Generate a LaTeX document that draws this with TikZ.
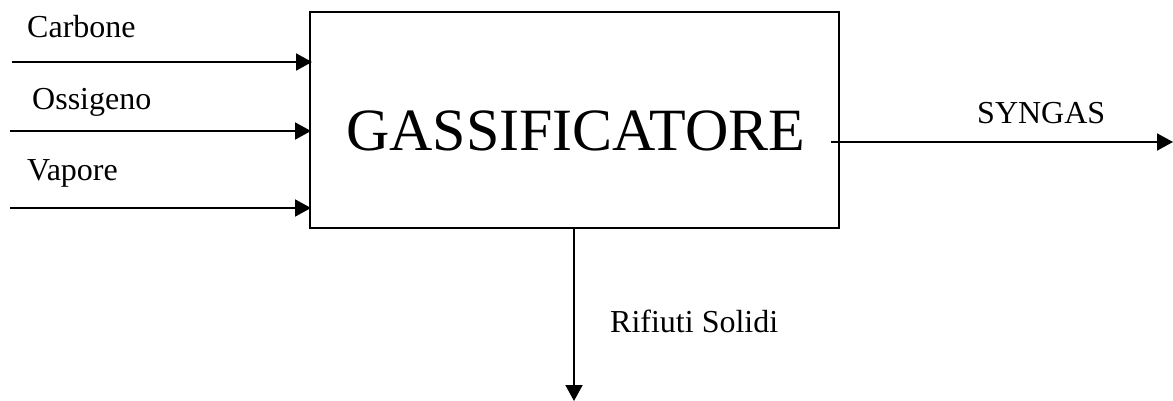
\documentclass[tikz,border=0pt]{standalone}
\usepackage{fontspec}
\setmainfont{Liberation Serif}
\usetikzlibrary{arrows.meta}
\begin{document}
\begin{tikzpicture}[x=1pt,y=-1pt,
  flow/.style={line width=2pt,-{Triangle[length=16pt,width=17pt]}},
  lab/.style={anchor=base west,inner sep=0pt,font=\fontsize{32}{38}\selectfont},
  boxst/.style={draw,line width=2pt,minimum width=529pt,minimum height=216pt,inner sep=0pt}]
\useasboundingbox (0,0) rectangle (1173,401);
\node[boxst] (box) at (574.5,120) {};
\node[anchor=base,inner sep=0pt,font=\fontsize{60}{68}\selectfont] (name) at (575.5,150) {GASSIFICATORE};
% inputs
\coordinate (c0) at (12,62);
\coordinate (o0) at (10,131);
\coordinate (v0) at (10,208);
\draw[flow] (c0) -- ([xshift=3pt]c0 -| box.west);
\draw[flow] (o0) -- ([xshift=2pt]o0 -| box.west);
\draw[flow] (v0) -- ([xshift=2pt]v0 -| box.west);
\node[lab] (lc) at (27,38) {Carbone};
\node[lab] (lo) at (32,110) {Ossigeno};
\node[lab] (lv) at (27,180) {Vapore};
% output
\coordinate (s1) at (1173,142);
\draw[flow] ([xshift=-9pt]s1 -| box.east) -- (s1);
\node[lab] (ls) at (977,124) {SYNGAS};
% waste
\coordinate (w1) at (574,401);
\draw[flow] (box.south -| w1) -- (w1);
\node[lab] (lw) at (610,332) {Rifiuti Solidi};
\end{tikzpicture}
\end{document}
